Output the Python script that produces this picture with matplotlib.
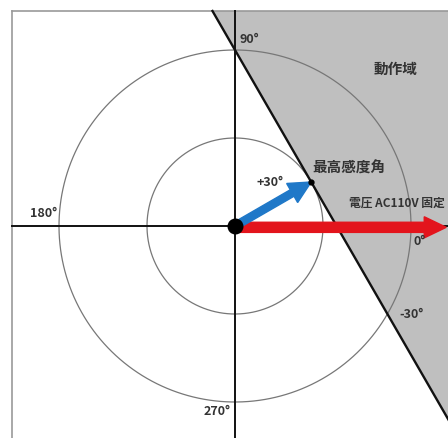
import matplotlib
matplotlib.use('Agg')
import matplotlib.pyplot as plt
import numpy as np

plt.rcParams['font.family'] = ['Noto Sans CJK JP', 'DejaVu Sans']

# データ
radii = [1.0, 2.0]                 # 内側 / 外側の円
max_angle = 30                     # 最高感度角 (deg)
ref_voltage = 'AC110V'
angle_labels = ['0°', '90°', '180°', '270°', '+30°', '-30°']
label_pos = [(2.03, -0.16), (0.05, 2.13), (-2.33, 0.15), (-0.36, -2.1),
             (0.24, 0.5), (1.87, -0.99)]

# 座標 (1単位 = 88px)
S = 88.0
CX, CY = 235, 227
W, H = 448, 439
x0, x1 = -CX / S, (W - CX) / S
y0, y1 = -(H - CY) / S, CY / S
frame_left = (12 - CX) / S
frame_top = (CY - 12) / S

fig = plt.figure(figsize=(W / 100, H / 100), dpi=100)
ax = fig.add_axes([0, 0, 1, 1])
ax.set_xlim(x0, x1)
ax.set_ylim(y0, y1)
ax.axis('off')

# 動作域 (x cos30 + y sin30 >= r_inner)
th = np.deg2rad(max_angle)
def line_x(y):
    return (radii[0] - y * np.sin(th)) / np.cos(th)
yb = -6
poly = [(line_x(frame_top), frame_top), (10, frame_top), (10, yb), (line_x(yb), yb)]
ax.add_patch(plt.Polygon(poly, closed=True, facecolor='#bfbfbf', edgecolor='none', zorder=1))
ax.plot([line_x(frame_top), line_x(yb)], [frame_top, yb], color='#111111', lw=1.7, zorder=4)

# 枠
ax.plot([frame_left, frame_left], [y0, frame_top], color='#999999', lw=1.2, zorder=2)
ax.plot([frame_left, x1], [frame_top, frame_top], color='#999999', lw=1.2, zorder=2)

# 円
t = np.linspace(0, 2 * np.pi, 400)
for r in radii:
    ax.plot(r * np.cos(t), r * np.sin(t), color='#777777', lw=0.9, zorder=3)

# 軸
ax.plot([0, 0], [y0, frame_top], color='#111111', lw=1.4, zorder=3)
ax.plot([frame_left, x1], [0, 0], color='#111111', lw=1.4, zorder=3)

# ベクトル
ax.arrow(0, -0.015, x1 - 0.02, 0, width=0.115, head_width=0.24, head_length=0.25,
         length_includes_head=True, color='#e3141c', zorder=5)
ax.arrow(0, 0, radii[0] * np.cos(th), radii[0] * np.sin(th), width=0.085,
         head_width=0.25, head_length=0.25, length_includes_head=True,
         color='#1f78c8', zorder=5)
ax.plot(0, 0, 'o', color='black', ms=10.5, zorder=6)
ax.plot(radii[0] * np.cos(th), radii[0] * np.sin(th), 'o', color='black', ms=3.5, zorder=6)

# ラベル
for lab, (lx, ly) in zip(angle_labels, label_pos):
    ax.text(lx, ly, lab, fontsize=9, fontweight='bold', color='#333333',
            ha='left', va='center', zorder=7)
ax.text(1.82, 1.8, '動作域', fontsize=10.5, fontweight='bold', color='#333333',
        ha='center', va='center', zorder=7)
ax.text(0.88, 0.67, '最高感度角', fontsize=10.5, fontweight='bold', color='#333333',
        ha='left', va='center', zorder=7)
ax.text(1.29, 0.27, '電圧 ' + ref_voltage + ' 固定', fontsize=8.5, fontweight='bold',
        color='#333333', ha='left', va='center', zorder=7)

fig.savefig('out.png', dpi=100, facecolor='white')
